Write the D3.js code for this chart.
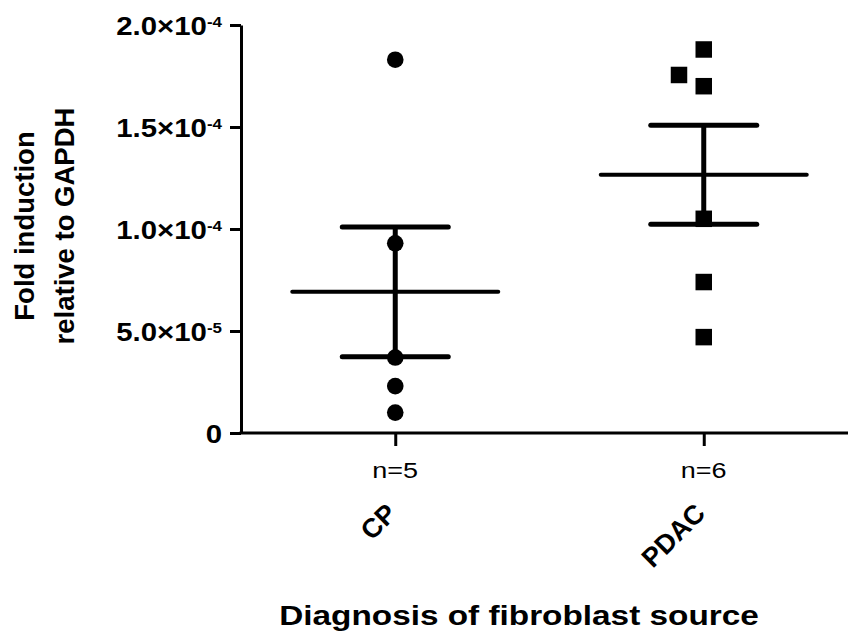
<!DOCTYPE html>
<html>
<head>
<meta charset="utf-8">
<style>
  html, body { margin: 0; padding: 0; background: #ffffff; }
  svg { display: block; font-family: "Liberation Sans", Arial, sans-serif; }
</style>
<script src="https://cdn.jsdelivr.net/npm/d3@7"></script>
</head>
<body>
<svg id="chart" width="848" height="635"></svg>
<script>
// values
var categories = ["CP", "PDAC"];
var countLabels = ["n=5", "n=6"];
var cpValues = [1.83e-4, 0.93e-4, 0.37e-4, 0.23e-4, 0.10e-4];
var pdacValues = [1.88e-4, 1.755e-4, 1.70e-4, 1.05e-4, 0.74e-4, 0.47e-4];
var yTicks = [0, 5e-5, 1e-4, 1.5e-4, 2e-4];
var yTitleLines = ["Fold induction", "relative to GAPDH"];
var xTitle = "Diagnosis of fibroblast source";

(function () {
  "use strict";

  var svg = d3.select("#chart");
  var groups = [
    { name: categories[0], label: countLabels[0], values: cpValues, shape: d3.symbolCircle },
    { name: categories[1], label: countLabels[1], values: pdacValues, shape: d3.symbolSquare }
  ];

  var x = d3.scalePoint().domain(categories).range([241, 858]).padding(0.5);
  var y = d3.scaleLinear().domain([0, 2e-4]).range([433, 25]);
  var markerSize = 16.5;

  function splitTick(v) {
    if (v === 0) return { base: "0", exp: "" };
    var e = Math.floor(Math.log10(v) + 1e-9);
    return { base: (v / Math.pow(10, e)).toFixed(1) + "\u00d710", exp: String(e) };
  }

  // y axis
  var yAxis = svg.append("g")
    .attr("transform", "translate(241,0)")
    .call(d3.axisLeft(y).tickValues(yTicks).tickSize(11).tickSizeOuter(0).tickFormat(""));
  yAxis.selectAll("path, line").attr("stroke", "#000").attr("stroke-width", 3);

  yTicks.forEach(function (v) {
    var parts = splitTick(v);
    var t = svg.append("text")
      .attr("transform", "translate(222," + (y(v) + 9.5) + ") scale(1.13,1)")
      .attr("text-anchor", "end")
      .attr("font-weight", "bold")
      .attr("font-size", 26)
      .attr("fill", "#000");
    t.append("tspan").text(parts.base);
    if (parts.exp) {
      t.append("tspan").attr("dy", -8).attr("font-size", 15).text(parts.exp);
    }
  });

  // x axis
  var xAxis = svg.append("g")
    .attr("transform", "translate(0,433)")
    .call(d3.axisBottom(x).tickSize(13).tickSizeOuter(0).tickFormat(""));
  xAxis.select("path").attr("d", "M239.5,0H848");
  xAxis.selectAll("path, line").attr("stroke", "#000").attr("stroke-width", 3);

  // points, nudged sideways where they would overlap
  function placePoints(values, cx) {
    var placed = [];
    values.slice().sort(d3.ascending).forEach(function (v) {
      var cy = y(v);
      var step = markerSize * 1.5;
      var offsets = [0, -step, step, -2 * step, 2 * step];
      for (var i = 0; i < offsets.length; i++) {
        var px = cx + offsets[i];
        var hit = placed.some(function (p) {
          return Math.abs(p.x - px) < markerSize && Math.abs(p.y - cy) < markerSize;
        });
        if (!hit) { placed.push({ x: px, y: cy, v: v }); break; }
      }
    });
    return placed;
  }

  groups.forEach(function (g) {
    var cx = x(g.name);
    var pts = placePoints(g.values, cx);
    svg.append("g").selectAll("path")
      .data(pts)
      .join("path")
      .attr("transform", function (p) { return "translate(" + p.x + "," + p.y + ")"; })
      .attr("d", d3.symbol().type(g.shape).size(g.shape === d3.symbolCircle ? Math.PI * 8.3 * 8.3 : markerSize * markerSize))
      .attr("fill", "#000");

    var mean = d3.mean(g.values);
    var sem = d3.deviation(g.values) / Math.sqrt(g.values.length);
    var bars = svg.append("g").attr("stroke", "#000").attr("stroke-linecap", "round");
    bars.append("line")
      .attr("x1", cx).attr("x2", cx)
      .attr("y1", y(mean - sem)).attr("y2", y(mean + sem))
      .attr("stroke-width", 5).attr("stroke-linecap", "butt");
    [mean - sem, mean + sem].forEach(function (v) {
      bars.append("line")
        .attr("x1", cx - 53).attr("x2", cx + 53)
        .attr("y1", y(v)).attr("y2", y(v))
        .attr("stroke-width", 5);
    });
    bars.append("line")
      .attr("x1", cx - 103).attr("x2", cx + 103)
      .attr("y1", y(mean)).attr("y2", y(mean))
      .attr("stroke-width", 4);

    svg.append("text")
      .attr("transform", "translate(" + cx + ",478) scale(1.2,1)")
      .attr("text-anchor", "middle")
      .attr("font-size", 22.5)
      .attr("fill", "#000")
      .text(g.label);

    svg.append("text")
      .attr("transform", "translate(" + (cx + 3) + ",515) rotate(-45)")
      .attr("text-anchor", "end")
      .attr("font-weight", "bold")
      .attr("font-size", 27)
      .attr("fill", "#000")
      .text(g.name);
  });

  // titles
  svg.append("text")
    .attr("transform", "translate(519,625) scale(1.17,1)")
    .attr("text-anchor", "middle")
    .attr("font-weight", "bold")
    .attr("font-size", 28.5)
    .attr("fill", "#000")
    .text(xTitle);

  yTitleLines.forEach(function (line, i) {
    svg.append("text")
      .attr("transform", "translate(" + (34 + i * 40) + ",226) rotate(-90)")
      .attr("text-anchor", "middle")
      .attr("font-weight", "bold")
      .attr("font-size", 27.5)
      .attr("fill", "#000")
      .text(line);
  });
})();
</script>
</body>
</html>
